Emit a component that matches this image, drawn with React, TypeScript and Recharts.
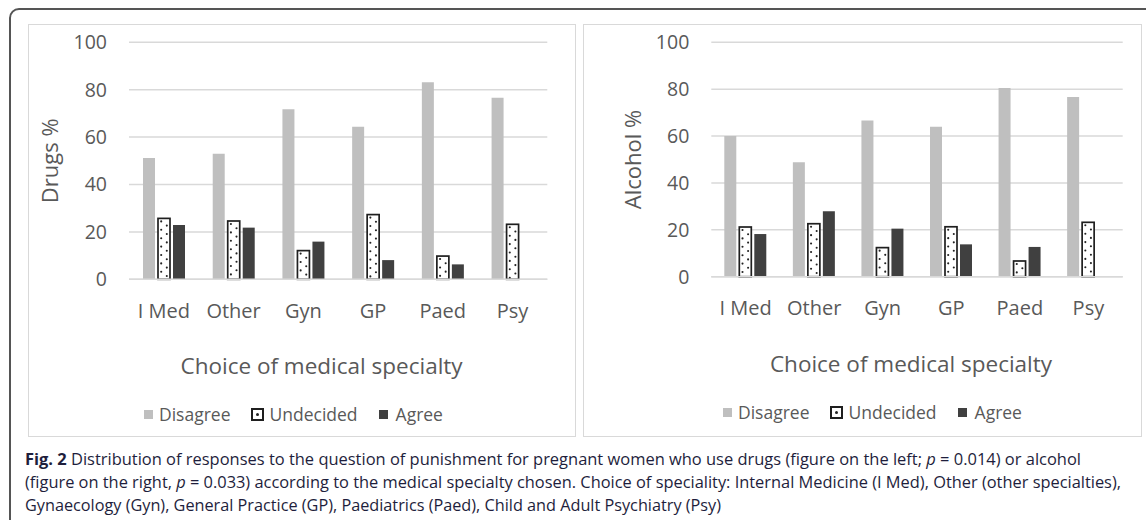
import { BarChart, Bar, XAxis, YAxis, CartesianGrid } from "recharts";

// specialties on the x axis
const categories = ["I Med", "Other", "Gyn", "GP", "Paed", "Psy"];

// drugs (%), left panel
const drugsDisagree = [51.2, 53.0, 71.7, 64.4, 83.1, 76.6];
const drugsUndecided = [25.7, 24.6, 12.1, 27.3, 9.8, 23.2];
const drugsAgree = [22.9, 21.8, 15.9, 8.1, 6.3, 0];

// alcohol (%), right panel
const alcoholDisagree = [60.0, 48.8, 66.6, 64.0, 80.5, 76.7];
const alcoholUndecided = [21.2, 22.6, 12.4, 21.3, 6.7, 23.2];
const alcoholAgree = [18.2, 27.9, 20.5, 13.8, 12.7, 0];

const yTicks = [0, 20, 40, 60, 80, 100];

const colors = {
  disagree: "#bfbfbf",
  agree: "#404040",
  undecidedEdge: "#1f1f1f",
  grid: "#d9d9d9",
  text: "#595959",
  caption: "#1e1e3c",
};

const chartFont = "'Open Sans', 'DejaVu Sans', sans-serif";

type Row = { name: string; disagree: number; undecided: number; agree: number };

function buildRows(dis: number[], und: number[], agr: number[]): Row[] {
  return categories.map((name, i) => ({
    name,
    disagree: dis[i],
    undecided: und[i],
    agree: agr[i],
  }));
}

// white bar with a dark outline and a staggered dot fill
function DottedBar(props: any) {
  const { x, y, width, height } = props;
  if (!height || height <= 0) return null;
  const dots = [];
  let row = 0;
  for (let cy = y + 3; cy < y + height - 1.5; cy += 4.2) {
    const cx = row % 2 === 0 ? x + 3.2 : x + width - 3.2;
    dots.push(<circle key={row} cx={cx} cy={cy} r={1.05} fill="#222" />);
    row++;
  }
  return (
    <g>
      <rect x={x} y={y} width={width} height={height} fill="#fff" stroke={colors.undecidedEdge} strokeWidth={1.7} />
      {dots}
    </g>
  );
}

// x axis title, placed off the plot centre the way the spreadsheet chart had it
function AxisTitle(props: any) {
  const { viewBox, shift, offset } = props;
  if (!viewBox) return null;
  return (
    <text
      x={viewBox.x + viewBox.width / 2 + shift}
      y={viewBox.y + viewBox.height - offset}
      textAnchor="middle"
      fill={colors.text}
      fontSize={22.5}
      fontFamily={chartFont}
    >
      Choice of medical specialty
    </text>
  );
}

function LegendRow({ left, top }: { left: number; top: number }) {
  const label = { fontFamily: chartFont, fontSize: 17.5, color: colors.text, lineHeight: "20px" };
  return (
    <div style={{ position: "absolute", left, top, display: "flex", alignItems: "center", height: 20 }}>
      <span style={{ width: 9, height: 9, background: colors.disagree, marginRight: 6 }} />
      <span style={label}>Disagree</span>
      <span
        style={{
          width: 9,
          height: 9,
          border: `2px solid ${colors.undecidedEdge}`,
          background: "#fff",
          marginLeft: 20,
          marginRight: 6,
          position: "relative",
        }}
      >
        <span style={{ position: "absolute", left: 3, top: 3, width: 3, height: 3, background: "#222", borderRadius: 2 }} />
      </span>
      <span style={label}>Undecided</span>
      <span style={{ width: 9, height: 9, background: colors.agree, marginLeft: 21, marginRight: 8 }} />
      <span style={label}>Agree</span>
    </div>
  );
}

type PanelProps = {
  left: number;
  width: number;
  rows: Row[];
  yLabel: string;
  yAxisWidth: number;
  marginRight: number;
  plotBottom: number;
  yLabelX: number;
  titleOffset: number;
  titleShift: number;
  legendLeft: number;
  legendTop: number;
};

function Panel(p: PanelProps) {
  const height = 413;
  const top = 18.3;
  const axisHeight = 100;
  const marginBottom = height - p.plotBottom - axisHeight;
  return (
    <div
      style={{
        position: "absolute",
        left: p.left,
        top: 24,
        width: p.width,
        height,
        boxSizing: "border-box",
        border: `1.5px solid ${colors.grid}`,
        background: "#fff",
      }}
    >
      <div style={{ position: "absolute", left: -1.5, top: -1.5 }}>
        <BarChart
          width={p.width}
          height={height}
          data={p.rows}
          margin={{ top, right: p.marginRight, bottom: marginBottom, left: 0 }}
          barSize={12}
          barGap={3}
          style={{ fontFamily: chartFont }}
        >
          <CartesianGrid stroke={colors.grid} strokeWidth={1.5} vertical={false} />
          <XAxis
            dataKey="name"
            height={axisHeight}
            axisLine={{ stroke: colors.grid, strokeWidth: 1.5 }}
            tickLine={false}
            tickMargin={18}
            tick={{ fill: colors.text, fontSize: 20 }}
            label={<AxisTitle shift={p.titleShift} offset={p.titleOffset} />}
          />
          <YAxis
            domain={[0, 100]}
            ticks={yTicks}
            width={p.yAxisWidth}
            axisLine={false}
            tickLine={false}
            tickMargin={16}
            tick={{ fill: colors.text, fontSize: 19.5 }}
            label={{
              value: p.yLabel,
              angle: -90,
              position: "insideLeft",
              offset: p.yLabelX,
              fill: colors.text,
              fontSize: 22,
              style: { textAnchor: "middle" },
            }}
          />
          <Bar dataKey="disagree" fill={colors.disagree} isAnimationActive={false} />
          <Bar dataKey="undecided" shape={<DottedBar />} isAnimationActive={false} />
          <Bar dataKey="agree" fill={colors.agree} isAnimationActive={false} />
        </BarChart>
      </div>
      <LegendRow left={p.legendLeft} top={p.legendTop} />
    </div>
  );
}

const captionStyle = {
  fontFamily: "'Open Sans', 'DejaVu Sans', sans-serif",
  fontSize: 16,
  fill: colors.caption,
};

function Caption() {
  return (
    <svg width={1146} height={80} style={{ position: "absolute", left: 0, top: 440 }}>
      <text x={25} y={25} textLength={1056} lengthAdjust="spacingAndGlyphs" style={captionStyle}>
        <tspan fontWeight={700}>Fig. 2</tspan>
        {"  Distribution of responses to the question of punishment for pregnant women who use drugs (figure on the left; "}
        <tspan fontStyle="italic">p</tspan>
        {" = 0.014) or alcohol"}
      </text>
      <text x={25} y={48} textLength={1096} lengthAdjust="spacingAndGlyphs" style={captionStyle}>
        {"(figure on the right, "}
        <tspan fontStyle="italic">p</tspan>
        {" = 0.033) according to the medical specialty chosen. Choice of speciality: Internal Medicine (I Med), Other (other specialties),"}
      </text>
      <text x={25} y={71} textLength={696} lengthAdjust="spacingAndGlyphs" style={captionStyle}>
        Gynaecology (Gyn), General Practice (GP), Paediatrics (Paed), Child and Adult Psychiatry (Psy)
      </text>
    </svg>
  );
}

export default function App() {
  const drugs = buildRows(drugsDisagree, drugsUndecided, drugsAgree);
  const alcohol = buildRows(alcoholDisagree, alcoholUndecided, alcoholAgree);
  return (
    <div
      style={{
        position: "absolute",
        left: 0,
        top: 0,
        width: 1146,
        height: 520,
        overflow: "hidden",
        background: "#fff",
      }}
    >
      {/* rounded figure frame, running off the right and bottom edges */}
      <div
        style={{
          position: "absolute",
          left: 9,
          top: 8,
          width: 1200,
          height: 600,
          border: "2px solid #555",
          borderRadius: 10,
        }}
      />
      <Panel
        left={28}
        width={548}
        rows={drugs}
        yLabel="Drugs %"
        yAxisWidth={101}
        marginRight={28.7}
        plotBottom={255.3}
        yLabelX={22}
        titleOffset={3.3}
        titleShift={-16.6}
        legendLeft={115}
        legendTop={379}
      />
      <Panel
        left={583}
        width={559}
        rows={alcohol}
        yLabel="Alcohol %"
        yAxisWidth={128.3}
        marginRight={19.3}
        plotBottom={252.7}
        yLabelX={50}
        titleOffset={5.7}
        titleShift={-6}
        legendLeft={139}
        legendTop={377}
      />
      <Caption />
    </div>
  );
}
